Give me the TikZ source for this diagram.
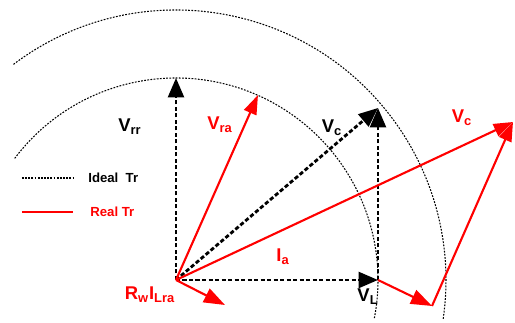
\documentclass[tikz,border=0pt]{standalone}
\usepackage{fontspec}
\setmainfont{Liberation Sans}
\usetikzlibrary{arrows.meta}

\begin{document}
\begin{tikzpicture}[x=0.02cm, y=0.02cm,
  ideal/.style={black, line width=1.6pt, dash pattern=on 2.4pt off 1.3pt, -{Triangle[length=11pt,width=9pt]}},
  real/.style={red, line width=1.2pt, -{Triangle[length=11pt,width=7.5pt]}},
  bigreal/.style={real, -{Triangle[length=12pt,width=8.5pt]}},
  circ/.style={black, line width=0.6pt, dash pattern=on 1pt off 0.8pt},
  lbl/.style={font=\bfseries\fontsize{10.5}{12}\selectfont},
  legend/.style={font=\bfseries\fontsize{7.5}{9}\selectfont, anchor=west, inner sep=0pt}]
  \useasboundingbox (-176,-43) rectangle (339,280);

  % phasor end points
  \coordinate (O) at (0,0);
  \coordinate (Vrr) at (0,202);
  \coordinate (VL) at (202,0);
  \coordinate (Vc) at (202,172);
  \coordinate (Vra) at (82,185);
  \coordinate (RwI) at (49,-25);
  \coordinate (P) at (256,-26);
  \coordinate (Vcr) at (337,158);

  % circles
  \draw[circ] (143:202) arc[start angle=143, end angle=-11, radius=202];
  \draw[circ] (127:270) arc[start angle=127, end angle=-8.5, radius=270];

  % ideal transformer
  \draw[ideal] (O) -- (Vrr);
  \draw[ideal] (O) -- (VL);
  \draw[ideal] (O) -- (Vc);
  \draw[ideal] (VL) -- (Vc);

  % real transformer
  \draw[real] (O) -- (Vra);
  \draw[bigreal] (O) -- (RwI);
  \draw[bigreal] (VL) -- (P);
  \draw[real] (P) -- (Vcr);
  \draw[real] (O) -- (Vcr);

  % labels
  \node[lbl] (lVrr) at (-46,153) {V\textsubscript{rr}};
  \node[lbl, red] (lVra) at (44,155) {V\textsubscript{ra}};
  \node[lbl] (lVc) at (156,152) {V\textsubscript{c}};
  \node[lbl, red] (lVcr) at (286,162) {V\textsubscript{c}};
  \node[lbl, red] (lIa) at (107,23) {I\textsubscript{a}};
  \node[lbl] (lVL) at (192,-17) {V\textsubscript{L}};
  \node[lbl, red] (lRwI) at (-26,-15) {R\textsubscript{w}I\textsubscript{Lra}};

  % legend
  \coordinate (i1) at (-154,102);
  \coordinate (i2) at (-103,102);
  \coordinate (r1) at (-154,68);
  \coordinate (r2) at (-103,68);
  \draw[circ] (i1) -- (i2);
  \draw[red, line width=0.8pt] (r1) -- (r2);
  \node[legend] (lIdeal) at (-88,102) {Ideal\ \ Tr};
  \node[legend, red] (lReal) at (-86,68) {Real\ Tr};
\end{tikzpicture}
\end{document}
